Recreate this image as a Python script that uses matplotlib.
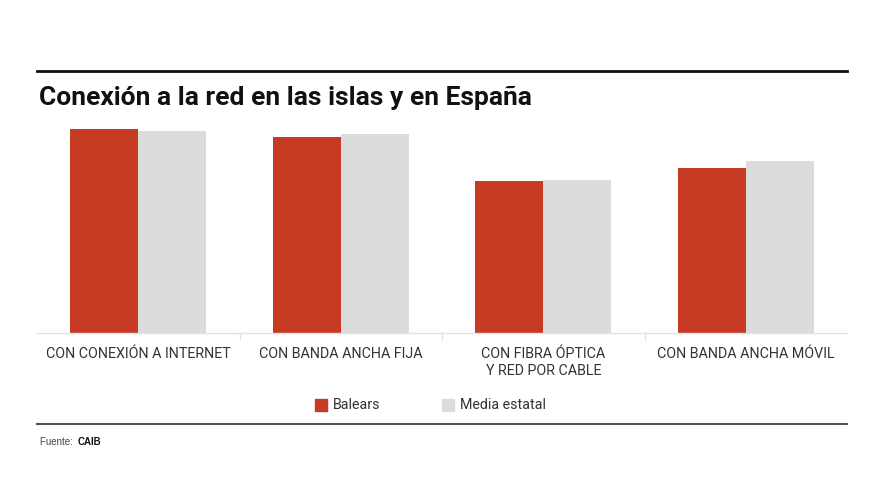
import matplotlib
matplotlib.use("Agg")
import matplotlib.pyplot as plt
from matplotlib.patches import Rectangle
from matplotlib.lines import Line2D
import numpy as np

categories = ["CON CONEXIÓN A INTERNET", "CON BANDA ANCHA FIJA",
              "CON FIBRA ÓPTICA\nY RED POR CABLE", "CON BANDA ANCHA MÓVIL"]
balears = [91.4, 87.9, 68.1, 74.1]
media_estatal = [90.6, 89.0, 68.5, 77.1]
series_names = ["Balears", "Media estatal"]
colors = ["#C63B24", "#DCDCDC"]

W, H = 880, 495
fig = plt.figure(figsize=(W / 100, H / 100), dpi=100)

def fx(px):
    return px / W

def fy(py):
    return 1 - py / H

ax = fig.add_axes([fx(37), fy(333), fx(847) - fx(37), fy(120) - fy(333)])
x = np.arange(len(categories))
bw = 0.336
ax.bar(x - bw / 2, balears, width=bw, color=colors[0], zorder=2)
ax.bar(x + bw / 2, media_estatal, width=bw, color=colors[1], zorder=2)
ax.set_xlim(-0.5, len(categories) - 0.5)
ax.set_ylim(0, 95.4)
for s in ["top", "right", "left"]:
    ax.spines[s].set_visible(False)
ax.spines["bottom"].set_color("#E2E2E2")
ax.spines["bottom"].set_linewidth(1.0)
ax.set_yticks([])
ax.set_xticks(np.arange(len(categories) - 1) + 0.5)
ax.set_xticklabels([])
ax.tick_params(axis="x", length=5, color="#E2E2E2", width=1)

label_font = ["Liberation Sans Narrow", "Roboto", "DejaVu Sans"]
for i, c in enumerate(categories):
    ax.text(i, -0.065, c, transform=ax.get_xaxis_transform(), ha="center", va="top",
            fontsize=10.3, color="#333333", family=label_font, linespacing=1.3)

# top rule and title
fig.add_artist(Line2D([fx(37), fx(847)], [fy(71), fy(71)], color="#111111", lw=2.0))
fig.text(fx(39), fy(98), "Conexión a la red en las islas y en España", ha="left", va="center",
         fontsize=19, fontweight="bold", color="#111111", family=["Roboto", "DejaVu Sans"])

# legend
sq = 12
fig.add_artist(Rectangle((fx(315), fy(411)), sq / W, sq / H, color=colors[0]))
fig.text(fx(333), fy(405), series_names[0], ha="left", va="center", fontsize=10.3,
         color="#333333", family=label_font)
fig.add_artist(Rectangle((fx(442), fy(411)), sq / W, sq / H, color=colors[1]))
fig.text(fx(460), fy(405), series_names[1], ha="left", va="center", fontsize=10.3,
         color="#333333", family=label_font)

# bottom rule and source
fig.add_artist(Line2D([fx(37), fx(847)], [fy(424), fy(424)], color="#555555", lw=1.5))
fig.text(fx(40), fy(442), "Fuente: ", ha="left", va="center", fontsize=7,
         color="#444444", family=["Liberation Sans", "DejaVu Sans"])
fig.text(fx(78), fy(442), "CAIB", ha="left", va="center", fontsize=7, fontweight="bold",
         color="#111111", family=["Liberation Sans", "DejaVu Sans"])

fig.savefig("out.png", dpi=100, facecolor="white")
